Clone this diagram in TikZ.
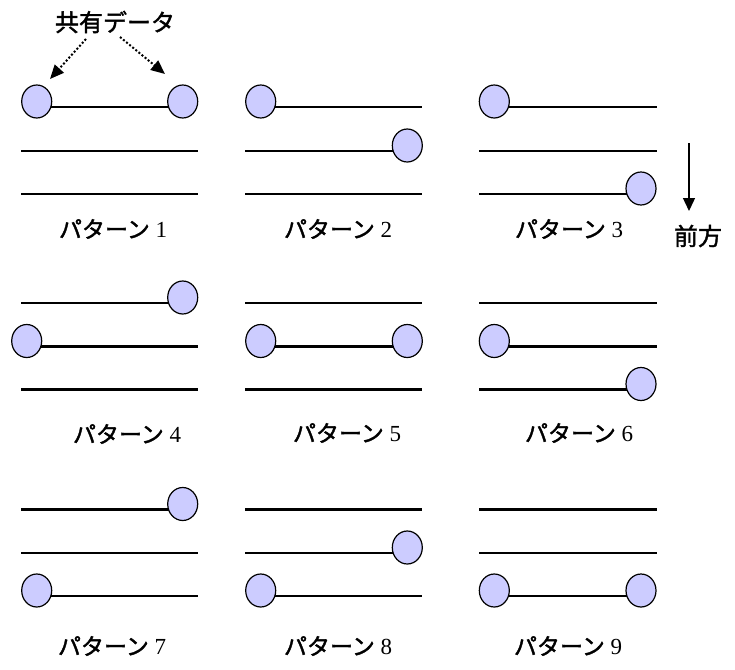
\documentclass[tikz,border=0pt]{standalone}
\usepackage{fontspec}
\setmainfont{Liberation Serif}
\newfontfamily\jpfont[FakeBold=1.6]{Noto Sans CJK JP}
\usetikzlibrary{shapes.geometric,arrows.meta,backgrounds}
\definecolor{dotfill}{HTML}{CCCCFF}
\begin{document}
\begin{tikzpicture}[x=1pt,y=-1pt,
  dot/.style={ellipse,draw=black,line width=1.2pt,fill=dotfill,minimum width=30pt,minimum height=33pt,inner sep=0pt},
  track/.style={line width=2.4pt,black},
  lbl/.style={font=\fontsize{23}{26}\selectfont,inner sep=0pt},
  jptext/.style={font=\jpfont\fontsize{24}{28}\selectfont,inner sep=0pt},
  hint/.style={dotted,line width=2pt,-{Triangle[length=14pt,width=12pt]}},
  fwd/.style={line width=1.4pt,-{Triangle[length=13pt,width=12pt]}}]
\useasboundingbox (0,0) rectangle (735,669);

% ---------- title and hint arrows
\node[jptext] (share) at (115,22) {共有データ};
\coordinate (hl) at (86,39);
\coordinate (hl1) at (50,79);
\coordinate (hr) at (120,37);
\coordinate (hr1) at (165,74);

% ---------- Pattern 1
\node[dot] (p1a) at (36.7,101.5) {};
\node[dot] (p1b) at (182.7,101.5) {};
\coordinate (p1m0) at (21,151); \coordinate (p1m1) at (198,151);
\coordinate (p1d0) at (21,194); \coordinate (p1d1) at (198,194);
\node[lbl] (t1) at (113,229) {{\jpfont パターン} 1};

% ---------- Pattern 2
\node[dot] (p2a) at (260.7,101.5) {};
\coordinate (p2u1) at (422,107);
\node[dot] (p2b) at (407.3,145.5) {};
\coordinate (p2m0) at (245,151);
\coordinate (p2d0) at (245,194); \coordinate (p2d1) at (422,194);
\node[lbl] (t2) at (338,229) {{\jpfont パターン} 2};

% ---------- Pattern 3
\node[dot] (p3a) at (494.3,101.5) {};
\coordinate (p3u1) at (657,107);
\coordinate (p3m0) at (479,151); \coordinate (p3m1) at (657,151);
\node[dot] (p3b) at (641,188.5) {};
\coordinate (p3d0) at (479,194);
\node[lbl] (t3) at (569,229) {{\jpfont パターン} 3};

% ---------- forward arrow
\coordinate (f0) at (689,143);
\coordinate (f1) at (689,211);
\node[jptext] (fw) at (698,236) {前方};

% ---------- Pattern 4
\node[dot] (p4a) at (182.7,297.5) {};
\coordinate (p4u0) at (21,303);
\node[dot] (p4b) at (26.7,341) {};
\coordinate (p4m1) at (198,346.5);
\coordinate (p4d0) at (21,389.5); \coordinate (p4d1) at (198,389.5);
\node[lbl] (t4) at (127,434) {{\jpfont パターン} 4};

% ---------- Pattern 5
\coordinate (p5u0) at (245,303); \coordinate (p5u1) at (422,303);
\node[dot] (p5a) at (260.7,341) {};
\node[dot] (p5b) at (407.3,341) {};
\coordinate (p5d0) at (245,389.5); \coordinate (p5d1) at (422,389.5);
\node[lbl] (t5) at (347,433) {{\jpfont パターン} 5};

% ---------- Pattern 6
\coordinate (p6u0) at (479,303); \coordinate (p6u1) at (657,303);
\node[dot] (p6a) at (494.3,341) {};
\coordinate (p6m1) at (657,346.5);
\node[dot] (p6b) at (641,384) {};
\coordinate (p6d0) at (479,389.5);
\node[lbl] (t6) at (579,433) {{\jpfont パターン} 6};

% ---------- Pattern 7
\node[dot] (p7a) at (182.7,504) {};
\coordinate (p7u0) at (21,509.5);
\coordinate (p7m0) at (21,553); \coordinate (p7m1) at (198,553);
\node[dot] (p7b) at (36.7,590.5) {};
\coordinate (p7d1) at (198,596);
\node[lbl] (t7) at (112,646) {{\jpfont パターン} 7};

% ---------- Pattern 8
\coordinate (p8u0) at (245,509.5); \coordinate (p8u1) at (422,509.5);
\node[dot] (p8a) at (407.3,547.5) {};
\coordinate (p8m0) at (245,553);
\node[dot] (p8b) at (260.7,590.5) {};
\coordinate (p8d1) at (422,596);
\node[lbl] (t8) at (338,646) {{\jpfont パターン} 8};

% ---------- Pattern 9
\coordinate (p9u0) at (479,509.5); \coordinate (p9u1) at (657,509.5);
\coordinate (p9m0) at (479,553); \coordinate (p9m1) at (657,553);
\node[dot] (p9a) at (494.3,590.5) {};
\node[dot] (p9b) at (641,590.5) {};
\node[lbl] (t9) at (568,646) {{\jpfont パターン} 9};

% ---------- connectors
\draw[hint] (hl) -- (hl1);
\draw[hint] (hr) -- (hr1);
\draw[fwd] (f0) -- (f1);

\begin{scope}[on background layer]
  % pattern 1
  \draw[track] ([yshift=-5.5pt]p1a.center) -- ([yshift=-5.5pt]p1b.center);
  \draw[track] (p1m0) -- (p1m1);
  \draw[track] (p1d0) -- (p1d1);
  % pattern 2
  \draw[track] ([yshift=-5.5pt]p2a.center) -- (p2u1);
  \draw[track] (p2m0) -- ([yshift=-5.5pt]p2b.center);
  \draw[track] (p2d0) -- (p2d1);
  % pattern 3
  \draw[track] ([yshift=-5.5pt]p3a.center) -- (p3u1);
  \draw[track] (p3m0) -- (p3m1);
  \draw[track] (p3d0) -- ([yshift=-5.5pt]p3b.center);
  % pattern 4
  \draw[track] (p4u0) -- ([yshift=-5.5pt]p4a.center);
  \draw[track] ([yshift=-5.5pt]p4b.center) -- (p4m1);
  \draw[track] (p4d0) -- (p4d1);
  % pattern 5
  \draw[track] (p5u0) -- (p5u1);
  \draw[track] ([yshift=-5.5pt]p5a.center) -- ([yshift=-5.5pt]p5b.center);
  \draw[track] (p5d0) -- (p5d1);
  % pattern 6
  \draw[track] (p6u0) -- (p6u1);
  \draw[track] ([yshift=-5.5pt]p6a.center) -- (p6m1);
  \draw[track] (p6d0) -- ([yshift=-5.5pt]p6b.center);
  % pattern 7
  \draw[track] (p7u0) -- ([yshift=-5.5pt]p7a.center);
  \draw[track] (p7m0) -- (p7m1);
  \draw[track] ([yshift=-5.5pt]p7b.center) -- (p7d1);
  % pattern 8
  \draw[track] (p8u0) -- (p8u1);
  \draw[track] (p8m0) -- ([yshift=-5.5pt]p8a.center);
  \draw[track] ([yshift=-5.5pt]p8b.center) -- (p8d1);
  % pattern 9
  \draw[track] (p9u0) -- (p9u1);
  \draw[track] (p9m0) -- (p9m1);
  \draw[track] ([yshift=-5.5pt]p9a.center) -- ([yshift=-5.5pt]p9b.center);
\end{scope}
\end{tikzpicture}
\end{document}
